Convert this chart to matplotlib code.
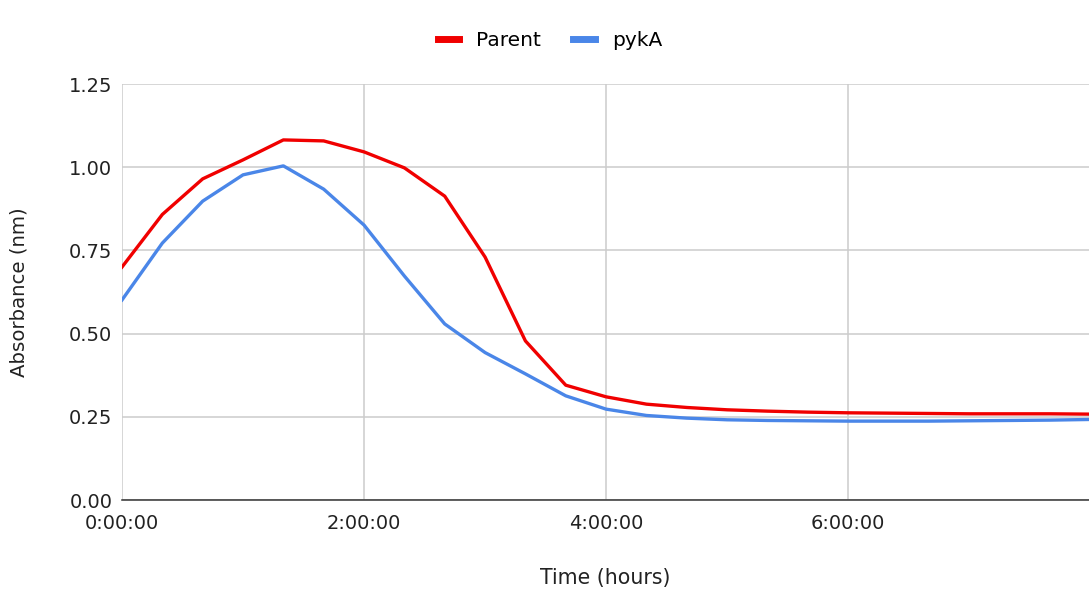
import matplotlib
matplotlib.use("Agg")
import matplotlib.pyplot as plt

# Time in hours (20-minute steps)
time_hours = [i / 3 for i in range(25)]
parent = [0.700, 0.858, 0.965, 1.022, 1.082, 1.079, 1.046, 0.998, 0.913, 0.730,
          0.478, 0.345, 0.310, 0.288, 0.278, 0.271, 0.267, 0.264, 0.262, 0.261,
          0.260, 0.259, 0.259, 0.259, 0.258]
pyka = [0.601, 0.772, 0.898, 0.977, 1.004, 0.934, 0.826, 0.673, 0.529, 0.443,
        0.379, 0.313, 0.273, 0.254, 0.246, 0.241, 0.239, 0.238, 0.237, 0.237,
        0.237, 0.238, 0.239, 0.240, 0.242]
x_ticks = [0, 2, 4, 6]
x_tick_labels = ["0:00:00", "2:00:00", "4:00:00", "6:00:00"]
y_ticks = [0, 0.25, 0.5, 0.75, 1.0, 1.25]

plt.rcParams['font.family'] = ['DejaVu Sans']

fig = plt.figure(figsize=(10.89, 5.89), dpi=100)
ax = fig.add_axes([122/1089, 1 - 500/589, 1 - 122/1089, (500 - 84)/589])

l1, = ax.plot(time_hours, parent, color="#f00000", lw=2.4, label="Parent", solid_joinstyle="round")
l2, = ax.plot(time_hours, pyka, color="#4a86e8", lw=2.4, label="pykA", solid_joinstyle="round")

ax.set_xlim(0, 7.99)
ax.set_ylim(0, 1.25)
ax.set_xticks(x_ticks)
ax.set_xticklabels(x_tick_labels)
ax.set_yticks(y_ticks)
ax.set_yticklabels([f"{v:.2f}" for v in y_ticks])
ax.grid(True, color="#cccccc", lw=1.1)
ax.set_axisbelow(True)
for s in ["top", "right", "left"]:
    ax.spines[s].set_visible(False)
ax.spines["bottom"].set_color("#333333")
ax.spines["bottom"].set_linewidth(1.1)
ax.tick_params(axis="both", length=0, labelsize=14, colors="#222222")
ax.tick_params(axis="x", pad=10)
ax.tick_params(axis="y", pad=7)
ax.set_xlabel("Time (hours)", fontsize=14.8, color="#222222", labelpad=25)
ax.set_ylabel("Absorbance (nm)", fontsize=14.2, color="#222222", labelpad=29)

fig.legend(handles=[l1, l2], loc="center", bbox_to_anchor=(0.505, 1 - 41/589),
           ncol=2, frameon=False, fontsize=14.5, handlelength=1.05, columnspacing=1.6,
           handletextpad=0.85)
for h in fig.legends[0].legend_handles:
    h.set_linewidth(5)

fig.savefig("out.png", dpi=100)
